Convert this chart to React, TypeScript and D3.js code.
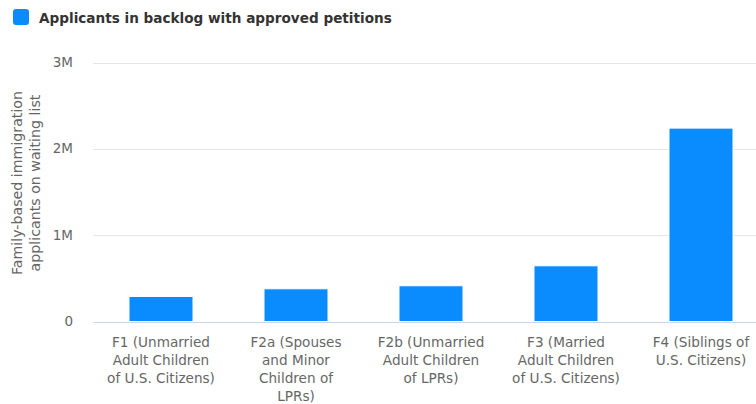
import React from "react";
import * as d3 from "d3";

const categories: string[][] = [
  ["F1 (Unmarried", "Adult Children", "of U.S. Citizens)"],
  ["F2a (Spouses", "and Minor", "Children of", "LPRs)"],
  ["F2b (Unmarried", "Adult Children", "of LPRs)"],
  ["F3 (Married", "Adult Children", "of U.S. Citizens)"],
  ["F4 (Siblings of", "U.S. Citizens)"],
];
const values: number[] = [290000, 379000, 414000, 645000, 2240000];
const yTicks: number[] = [0, 1000000, 2000000, 3000000];
const yTickLabels: string[] = ["0", "1M", "2M", "3M"];
const seriesName = "Applicants in backlog with approved petitions";
const yTitle = ["Family-based immigration", "applicants on waiting list"];

const W = 756;
const H = 404;
const FONT = "'DejaVu Sans', Verdana, sans-serif";

export default function App() {
  const x = d3
    .scaleBand<number>()
    .domain(categories.map((_, i) => i))
    .range([93.5, 768.5])
    .paddingInner(0.526)
    .paddingOuter(0.263);
  const y = d3.scaleLinear().domain([0, 3000000]).range([321.5, 62.5]);

  return (
    <svg
      width={W}
      height={H}
      style={{ position: "absolute", left: 0, top: 0, fontFamily: FONT }}
    >
      <rect width={W} height={H} fill="#fff" />
      {/* legend */}
      <rect x={13} y={9} width={16} height={16} rx={3} fill="#0a8cff" />
      <text x={39} y={23} fontSize={13.6} fontWeight="bold" fill="#333">
        {seriesName}
      </text>
      {/* gridlines */}
      {yTicks.map((t, i) => (
        <g key={i}>
          <line
            x1={93}
            x2={W}
            y1={Math.round(y(t)) + 0.5}
            y2={Math.round(y(t)) + 0.5}
            stroke={t === 0 ? "#ccd6eb" : "#e6e6e6"}
            strokeWidth={1}
          />
          <text
            x={73}
            y={y(t) + 4.5}
            textAnchor="end"
            fontSize={13.5}
            fill="#666"
          >
            {yTickLabels[i]}
          </text>
        </g>
      ))}
      {/* y title */}
      <g transform="translate(0,183) rotate(-90)">
        {yTitle.map((l, i) => (
          <text
            key={i}
            x={0}
            y={22 + i * 18}
            textAnchor="middle"
            fontSize={14.2}
            fill="#666"
          >
            {l}
          </text>
        ))}
      </g>
      {/* bars */}
      {values.map((v, i) => (
        <rect
          key={i}
          x={x(i)!}
          y={y(v)}
          width={x.bandwidth()}
          height={y(0) - y(v)}
          fill="#0a8cff"
          stroke="#fff"
          strokeWidth={1}
        />
      ))}
      {/* x labels */}
      {categories.map((lines, i) => (
        <text
          key={i}
          textAnchor="middle"
          fontSize={13.6}
          fill="#666"
        >
          {lines.map((l, j) => (
            <tspan key={j} x={x(i)! + x.bandwidth() / 2} y={346.5 + j * 18.3}>
              {l}
            </tspan>
          ))}
        </text>
      ))}
    </svg>
  );
}
